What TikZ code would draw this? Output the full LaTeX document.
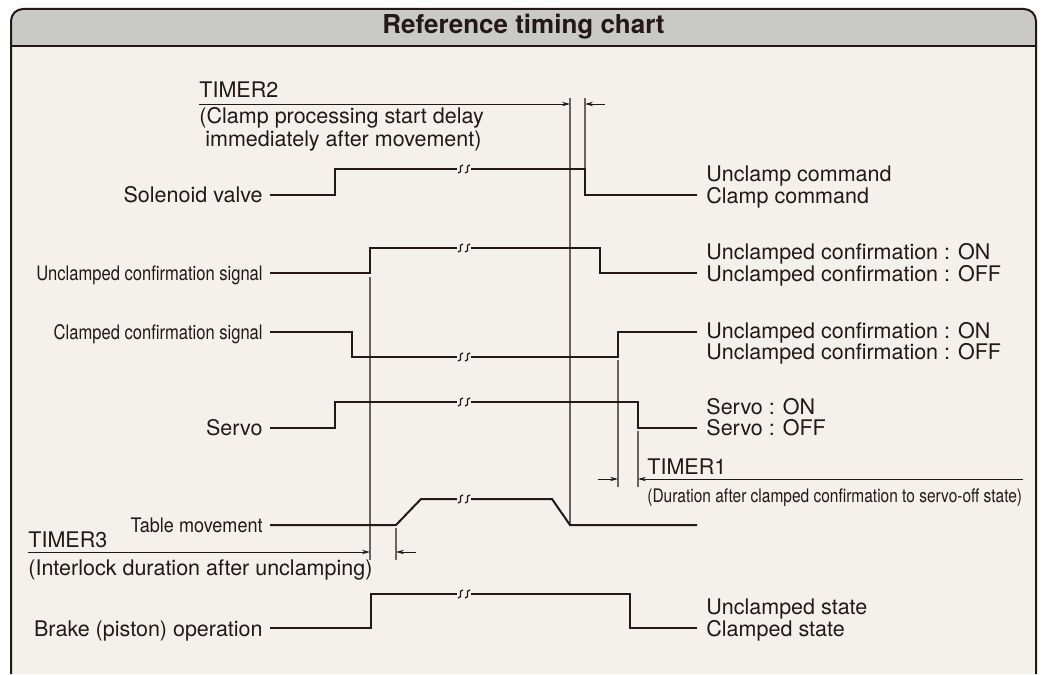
\documentclass[tikz,border=0pt]{standalone}
\usepackage{fontspec}
\setmainfont{TeX Gyre Heros}
\usetikzlibrary{arrows.meta}
\definecolor{ink}{HTML}{231815}
\definecolor{ink2}{HTML}{6A6360}
\definecolor{paper}{HTML}{F4F1EA}
\definecolor{band}{HTML}{C9C9C7}
\tikzset{
  frm/.style={draw=ink,line width=1pt},
  sig/.style={draw=ink,line width=1pt,line join=miter},
  ext/.style={draw=ink2,line width=0.55pt},
  dim/.style={draw=ink,line width=0.45pt,-{Stealth[length=4pt,width=2.2pt]}},
  lbl/.style={inner sep=0pt,text=ink,anchor=base west,font=\fontsize{10.75}{12}\selectfont},
  lft/.style={lbl,anchor=base east},
  ttl/.style={inner sep=0pt,text=ink,font=\bfseries\fontsize{13}{14}\selectfont},
  brk/.pic={
    \fill[paper] (-7,-1.8) rectangle (7,1.8);
    \foreach \d in {-3.5,3.5}
      \draw[ink,line width=0.6pt] (\d+2.5,-4) .. controls (\d-3.5,-4) and (\d+3.5,4) .. (\d-2.5,4);
  },
}
\begin{document}
\begin{tikzpicture}[x=0.5pt,y=-0.5pt]
  \useasboundingbox (0,0) rectangle (1043,674);
  % frame and title band
  \fill[paper] (11,674) [rounded corners=6pt] -- (11,9) -- (1036,9) [sharp corners] -- (1036,674) -- cycle;
  \fill[band] (11,46) [rounded corners=6pt] -- (11,9) -- (1036,9) [sharp corners] -- (1036,46) -- cycle;
  \draw[frm] (11,674) [rounded corners=6pt] -- (11,9) -- (1036,9) [sharp corners] -- (1036,674);
  \draw[frm] (11,46) -- (1036,46);
  \node[ttl] (title) at (523.5,27) {Reference timing chart};

  % extension lines
  \draw[ext] (570,98) -- (570,525);
  \draw[ext] (585,98) -- (585,169);
  \draw[ext] (370,277) -- (370,560);
  \draw[ext] (396,528) -- (396,560);
  \draw[ext] (618,360) -- (618,487);
  \draw[ext] (638,431) -- (638,487);

  % solenoid valve
  \node[lft] (sv) at (263,202.5) {Solenoid valve};
  \draw[sig] (270,195) -- (335,195) -- (335,169) -- (585,169) -- (585,195) -- (697,195);
  \node[lbl] (sv1) at (706,181.5) {Unclamp command};
  \node[lbl] (sv0) at (706,203) {Clamp command};

  % unclamped confirmation
  \node[lft] (uc) at (263,280.5) {\scalebox{0.77}[0.93]{Unclamped confirmation signal}};
  \draw[sig] (270,273) -- (370,273) -- (370,248) -- (600,248) -- (600,273) -- (697,273);
  \node[lbl] (uc1) at (706,259.5) {Unclamped confirmation : ON};
  \node[lbl] (uc0) at (706,281) {Unclamped confirmation : OFF};

  % clamped confirmation
  \node[lft] (cc) at (263,339.5) {\scalebox{0.77}[0.93]{Clamped confirmation signal}};
  \draw[sig] (270,332) -- (352,332) -- (352,357) -- (618,357) -- (618,332) -- (697,332);
  \node[lbl] (cc1) at (706,338) {Unclamped confirmation : ON};
  \node[lbl] (cc0) at (706,359.5) {Unclamped confirmation : OFF};

  % servo
  \node[lft] (sr) at (263,435.5) {Servo};
  \draw[sig] (270,428) -- (335,428) -- (335,402) -- (638,402) -- (638,428) -- (697,428);
  \node[lbl] (sr1) at (706,414) {Servo : ON};
  \node[lbl] (sr0) at (706,435.5) {Servo : OFF};

  % table movement
  \node[lft] (tm) at (263,532.5) {\scalebox{0.84}[0.93]{Table movement}};
  \draw[sig] (270,525) -- (396,525) -- (421,499) -- (552,499) -- (570,525) -- (697,525);

  % brake
  \node[lft] (bk) at (263,636) {Brake (piston) operation};
  \draw[sig] (270,628) -- (371,628) -- (371,594) -- (630,594) -- (630,628) -- (697,628);
  \node[lbl] (bk1) at (706,614.5) {Unclamped state};
  \node[lbl] (bk0) at (706,636) {Clamped state};

  % breaks
  \foreach \y in {169,248,357,402,499,594}
    \pic at (464,\y) {brk};

  % TIMER2
  \node[lbl] (t2) at (199,97.5) {TIMER2};
  \draw[dim] (199,104) -- (570,104);
  \draw[dim] (605,104) -- (585,104);
  \node[lbl] (t2a) at (199,124) {(Clamp processing start delay};
  \node[lbl] (t2b) at (205,146.5) {immediately after movement)};

  % TIMER1
  \node[lbl] (t1) at (647,474) {TIMER1};
  \draw[dim] (598,479) -- (618,479);
  \draw[dim] (1023,479) -- (638,479);
  \node[lbl] (t1a) at (647,502) {\scalebox{0.72}[0.87]{(Duration after clamped confirmation to servo-off state)}};

  % TIMER3
  \node[lbl] (t3) at (28,547.5) {TIMER3};
  \draw[dim] (28,552) -- (370,552);
  \draw[dim] (416,552) -- (396,552);
  \node[lbl] (t3a) at (28,575) {(Interlock duration after unclamping)};
\end{tikzpicture}
\end{document}
